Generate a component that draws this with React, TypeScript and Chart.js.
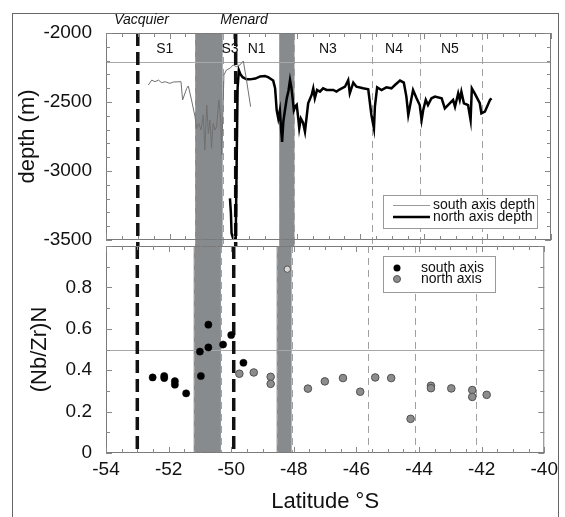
import React, { useEffect, useRef } from 'react';
import { Chart, registerables } from 'chart.js';
Chart.register(...registerables);

// ---------- data ----------
const southDepthLat = [-52.67, -52.56, -52.46, -52.35, -52.25, -52.14, -51.99, -51.88, -51.64, -51.59, -51.46, -51.41, -51.31, -51.2, -51.15, -51.08, -51.01, -50.94, -50.89, -50.83, -50.78, -50.73, -50.68, -50.63, -50.57, -50.52, -50.45, -50.39, -50.36, -50.29, -50.21, -50.1, -50.0, -49.89, -49.79, -49.68, -49.58, -49.45];
const southDepth = [-2377, -2341, -2353, -2341, -2360, -2353, -2365, -2355, -2353, -2485, -2401, -2384, -2485, -2606, -2691, -2655, -2703, -2594, -2848, -2522, -2727, -2630, -2836, -2655, -2703, -2679, -2485, -2630, -2884, -2304, -2268, -2256, -2232, -2244, -2232, -2203, -2341, -2534];

const northDepthLat = [-50.1, -50.07, -50.05, -50.0, -49.92, -49.86, -49.82, -49.77, -49.7, -49.58, -49.47, -49.3, -49.15, -49.0, -48.9, -48.8, -48.74, -48.68, -48.63, -48.58, -48.53, -48.49, -48.46, -48.42, -48.37, -48.31, -48.26, -48.21, -48.17, -48.13, -48.09, -48.04, -48.0, -47.95, -47.92, -47.87, -47.8, -47.74, -47.64, -47.53, -47.48, -47.43, -47.36, -47.27, -47.17, -47.06, -46.85, -46.75, -46.64, -46.48, -46.38, -46.33, -46.22, -46.12, -45.91, -45.75, -45.65, -45.57, -45.54, -45.47, -45.33, -45.18, -45.02, -44.91, -44.75, -44.63, -44.55, -44.49, -44.44, -44.34, -44.23, -44.13, -44.07, -44.02, -43.94, -43.87, -43.76, -43.65, -43.44, -43.34, -43.18, -43.08, -43.02, -42.92, -42.87, -42.82, -42.74, -42.61, -42.53, -42.49, -42.4, -42.24, -42.19, -42.08, -41.92, -41.87];
const northDepth = [-3198, -3306, -3451, -3488, -3500, -2400, -2270, -2300, -2320, -2335, -2336, -2330, -2315, -2312, -2320, -2335, -2345, -2400, -2560, -2620, -2560, -2700, -2790, -2640, -2560, -2470, -2420, -2340, -2390, -2470, -2560, -2530, -2520, -2620, -2690, -2620, -2650, -2715, -2509, -2449, -2401, -2473, -2413, -2425, -2401, -2413, -2413, -2425, -2408, -2389, -2341, -2437, -2360, -2389, -2401, -2408, -2594, -2691, -2534, -2394, -2413, -2394, -2401, -2377, -2345, -2360, -2461, -2594, -2534, -2413, -2473, -2522, -2630, -2558, -2485, -2522, -2473, -2461, -2473, -2546, -2509, -2485, -2534, -2437, -2485, -2425, -2509, -2522, -2630, -2401, -2437, -2509, -2582, -2570, -2485, -2473];

const southNbLat = [-52.51, -52.14, -52.14, -51.8, -51.8, -51.44, -51.0, -50.97, -50.73, -50.73, -50.26, -50.0, -49.61];
const southNb = [0.365, 0.372, 0.362, 0.347, 0.33, 0.288, 0.49, 0.372, 0.62, 0.51, 0.524, 0.57, 0.436];

const northNbLat = [-49.74, -49.28, -48.74, -48.74, -47.55, -47.01, -46.43, -45.88, -45.4, -44.89, -44.27, -43.62, -43.62, -42.97, -42.3, -42.3, -41.84];
const northNb = [0.383, 0.389, 0.368, 0.334, 0.311, 0.346, 0.362, 0.296, 0.365, 0.362, 0.165, 0.325, 0.313, 0.312, 0.304, 0.271, 0.281];

const outlierLat = [-48.21];
const outlierNb = [0.888];

const sectionNames = ['S1', 'S3', 'N1', 'N3', 'N4', 'N5'];
const sectionLat = [-52.15, -50.1, -49.26, -47.02, -44.94, -43.18];
const sectionDepth = -2115;

const ridgeNames = ['Vacquier', 'Menard'];
const ridgeLat = [-53, -49.92];
const ridgeLabelLat = [-52.88, -49.66];

const bandStart = [-51.2, -48.55];
const bandEnd = [-50.33, -48.07];
const boundaryLat = [-51.2, -50.33, -48.55, -48.07, -45.64, -44.12, -42.17];

const depthRef = -2210;
const ratioRef = 0.5;

const depthLegend = ['south axis depth', 'north axis depth'];
const ratioLegend = ['south axis', 'north axis'];

const FONT = '"Liberation Sans", Arial, Helvetica, sans-serif';

const zip = (xs: number[], ys: number[]) => xs.map((x, i) => ({ x, y: ys[i] }));

function decor(kind: 'top' | 'bottom') {
  return {
    id: 'decor_' + kind,
    beforeDatasetsDraw(chart: any) {
      const { ctx, chartArea: a, scales } = chart;
      const xs = scales.x, ys = scales.y;
      const ext = kind === 'top' ? 6 : 0;
      ctx.save();
      ctx.fillStyle = '#878b8e';
      bandStart.forEach((s, i) => {
        const x1 = xs.getPixelForValue(s), x2 = xs.getPixelForValue(bandEnd[i]);
        ctx.fillRect(x1, a.top, x2 - x1, a.bottom - a.top + ext);
      });
      const ry = Math.round(ys.getPixelForValue(kind === 'top' ? depthRef : ratioRef)) + 0.5;
      ctx.strokeStyle = '#a8a8a8';
      ctx.lineWidth = 1;
      ctx.beginPath();
      ctx.moveTo(a.left, ry);
      ctx.lineTo(a.right, ry);
      ctx.stroke();
      ctx.strokeStyle = '#a0a0a0';
      ctx.setLineDash([7, 5]);
      ctx.beginPath();
      boundaryLat.forEach((b) => {
        const px = Math.round(xs.getPixelForValue(b)) + 0.5;
        ctx.moveTo(px, a.top);
        ctx.lineTo(px, a.bottom + ext);
      });
      ctx.stroke();
      ctx.strokeStyle = '#111';
      ctx.lineWidth = 3.5;
      ctx.setLineDash([13, 6]);
      ctx.beginPath();
      ridgeLat.forEach((r) => {
        const px = xs.getPixelForValue(r);
        ctx.moveTo(px, a.top);
        ctx.lineTo(px, a.bottom + ext);
      });
      ctx.stroke();
      ctx.restore();
    },
    afterDatasetsDraw(chart: any) {
      const { ctx, chartArea: a, scales } = chart;
      const xs = scales.x, ys = scales.y;
      ctx.save();
      ctx.strokeStyle = '#7a7a7a';
      ctx.lineWidth = 1;
      ctx.strokeRect(a.left + 0.5, a.top + 0.5, a.right - a.left - 1, a.bottom - a.top - 1);
      ctx.strokeStyle = '#888';
      ctx.beginPath();
      for (let v = xs.min; v <= xs.max + 1e-6; v += 0.5) {
        const major = Math.abs(v / 2 - Math.round(v / 2)) < 1e-6;
        const L = major ? 6 : 4;
        const px = Math.round(xs.getPixelForValue(v)) + 0.5;
        ctx.moveTo(px, a.top);
        ctx.lineTo(px, a.top + L);
        ctx.moveTo(px, a.bottom);
        ctx.lineTo(px, a.bottom - L);
      }
      const minorStep = kind === 'top' ? 100 : 0.1;
      const majorStep = kind === 'top' ? 500 : 0.2;
      const n = Math.round((ys.max - ys.min) / minorStep);
      for (let i = 0; i <= n; i++) {
        const v = ys.min + i * minorStep;
        const q = v / majorStep;
        const major = Math.abs(q - Math.round(q)) < 1e-6;
        const L = major ? 6 : 4;
        const py = Math.round(ys.getPixelForValue(v)) + 0.5;
        ctx.moveTo(a.left, py);
        ctx.lineTo(a.left + L, py);
        ctx.moveTo(a.right, py);
        ctx.lineTo(a.right - L, py);
      }
      ctx.stroke();

      ctx.fillStyle = '#111';
      ctx.textBaseline = 'middle';
      ctx.textAlign = 'center';
      if (kind === 'top') {
        ctx.font = '14px ' + FONT;
        sectionNames.forEach((s, i) => {
          ctx.fillText(s, xs.getPixelForValue(sectionLat[i]), ys.getPixelForValue(sectionDepth));
        });
        ctx.font = 'italic 14px ' + FONT;
        ridgeNames.forEach((s, i) => {
          ctx.fillText(s, xs.getPixelForValue(ridgeLabelLat[i]), a.top - 13);
        });
        const bx = 383, by = 195, bw = 154, bh = 33;
        ctx.fillStyle = '#fff';
        ctx.fillRect(bx, by, bw, bh);
        ctx.strokeStyle = '#999';
        ctx.lineWidth = 1;
        ctx.strokeRect(bx + 0.5, by + 0.5, bw, bh);
        const rows = [by + 10.5, by + 22];
        ctx.beginPath();
        ctx.strokeStyle = '#9a9a9a';
        ctx.lineWidth = 1;
        ctx.moveTo(393, rows[0]);
        ctx.lineTo(430, rows[0]);
        ctx.stroke();
        ctx.beginPath();
        ctx.strokeStyle = '#000';
        ctx.lineWidth = 2.5;
        ctx.moveTo(393, rows[1]);
        ctx.lineTo(430, rows[1]);
        ctx.stroke();
        ctx.fillStyle = '#111';
        ctx.textAlign = 'left';
        ctx.font = '14px ' + FONT;
        depthLegend.forEach((t, i) => ctx.fillText(t, 433, rows[i]));
      } else {
        const bx = 383, by = 256, bw = 112, bh = 36;
        ctx.fillStyle = '#fff';
        ctx.fillRect(bx, by, bw, bh);
        ctx.strokeStyle = '#999';
        ctx.lineWidth = 1;
        ctx.strokeRect(bx + 0.5, by + 0.5, bw, bh);
        const rows = [by + 12, by + 23];
        ctx.fillStyle = '#000';
        ctx.beginPath();
        ctx.arc(397, rows[0], 3.5, 0, Math.PI * 2);
        ctx.fill();
        ctx.fillStyle = '#8c8c8c';
        ctx.strokeStyle = '#555';
        ctx.beginPath();
        ctx.arc(397, rows[1], 3.5, 0, Math.PI * 2);
        ctx.fill();
        ctx.stroke();
        ctx.fillStyle = '#111';
        ctx.textAlign = 'left';
        ctx.font = '14px ' + FONT;
        ratioLegend.forEach((t, i) => ctx.fillText(t, 421, rows[i]));
      }
      ctx.restore();
    },
  };
}

const tickFont = { family: FONT, size: 19 };
const titleFont = { family: FONT, size: 22 };

export default function App() {
  const topRef = useRef<HTMLCanvasElement>(null);
  const botRef = useRef<HTMLCanvasElement>(null);

  useEffect(() => {
    const top = new Chart(topRef.current!, {
      type: 'scatter',
      data: {
        datasets: [
          {
            label: depthLegend[0],
            data: zip(southDepthLat, southDepth),
            showLine: true,
            borderColor: '#707070',
            borderWidth: 1,
            pointRadius: 0,
            tension: 0,
          },
          {
            label: depthLegend[1],
            data: zip(northDepthLat, northDepth),
            showLine: true,
            borderColor: '#000',
            borderWidth: 2.5,
            pointRadius: 0,
            tension: 0,
          },
        ],
      },
      options: {
        animation: false,
        responsive: false,
        devicePixelRatio: 1,
        layout: { padding: { left: 8, right: 14, top: 33, bottom: 277 } },
        plugins: { legend: { display: false }, tooltip: { enabled: false } },
        scales: {
          x: { type: 'linear', min: -54, max: -40, display: false },
          y: {
            type: 'linear',
            min: -3500,
            max: -2000,
            afterFit: (s: any) => { s.width = 98; },
            grid: { display: false, drawTicks: false },
            border: { display: false },
            ticks: { stepSize: 500, padding: 14, color: '#111', font: tickFont, callback: (v: any) => String(v) },
            title: { display: true, text: 'depth (m)', color: '#111', font: titleFont, padding: { top: 7, bottom: 0 } },
          },
        },
      },
      plugins: [decor('top')],
    });

    const bot = new Chart(botRef.current!, {
      type: 'scatter',
      data: {
        datasets: [
          {
            label: ratioLegend[0],
            data: zip(southNbLat, southNb),
            backgroundColor: '#000',
            borderColor: '#000',
            borderWidth: 0.5,
            pointRadius: 3.6,
          },
          {
            label: ratioLegend[1],
            data: zip(northNbLat, northNb),
            backgroundColor: '#8c8c8c',
            borderColor: '#505050',
            borderWidth: 1,
            pointRadius: 3.8,
          },
          {
            label: 'north axis (outlier)',
            data: zip(outlierLat, outlierNb),
            backgroundColor: '#d8d8d8',
            borderColor: '#555',
            borderWidth: 1,
            pointRadius: 3.2,
          },
        ],
      },
      options: {
        animation: false,
        responsive: false,
        devicePixelRatio: 1,
        layout: { padding: { left: 8, right: 14, top: 246, bottom: 0 } },
        plugins: { legend: { display: false }, tooltip: { enabled: false } },
        scales: {
          x: {
            type: 'linear',
            min: -54,
            max: -40,
            afterFit: (s: any) => { s.height = 64; },
            grid: { display: false, drawTicks: false },
            border: { display: false },
            ticks: { stepSize: 2, padding: 7, color: '#111', font: { ...tickFont, lineHeight: 1 }, callback: (v: any) => String(v) },
            title: { display: true, text: 'Latitude °S', color: '#111', font: titleFont, padding: { top: 0, bottom: 2 } },
          },
          y: {
            type: 'linear',
            min: 0,
            max: 1,
            afterFit: (s: any) => { s.width = 98; },
            grid: { display: false, drawTicks: false },
            border: { display: false },
            ticks: {
              stepSize: 0.2,
              padding: 14,
              color: '#111',
              font: tickFont,
              callback: (v: any) => (v > 0.99 ? '' : String(Math.round(v * 10) / 10)),
            },
            title: { display: true, text: '(Nb/Zr)N', color: '#111', font: titleFont, padding: { top: 19, bottom: 0 } },
          },
        },
      },
      plugins: [decor('bottom')],
    });

    return () => {
      top.destroy();
      bot.destroy();
    };
  }, []);

  const cs: React.CSSProperties = { position: 'absolute', left: 0, top: 0 };
  return (
    <div style={{ position: 'absolute', left: 0, top: 0, width: 565, height: 517, overflow: 'hidden', background: '#fff' }}>
      <div style={{ position: 'absolute', left: 12, top: 13, width: 547, height: 520, border: '1.5px solid #666', boxSizing: 'border-box' }} />
      <canvas ref={botRef} width={565} height={517} style={cs} />
      <canvas ref={topRef} width={565} height={517} style={cs} />
    </div>
  );
}
